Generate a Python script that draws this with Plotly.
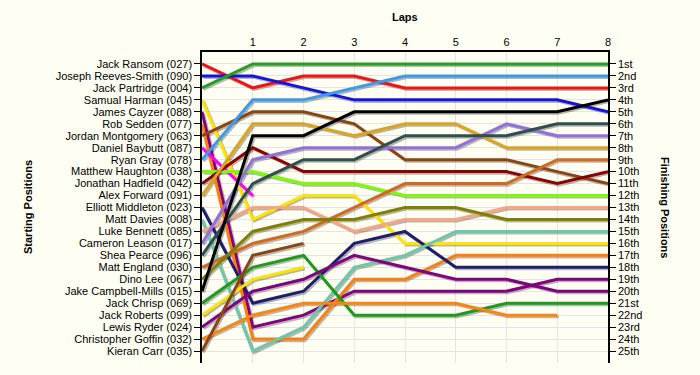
import plotly.graph_objects as go

laps = [0, 1, 2, 3, 4, 5, 6, 7, 8]

riders = [
    "Jack Ransom (027)", "Joseph Reeves-Smith (090)", "Jack Partridge (004)",
    "Samual Harman (045)", "James Cayzer (088)", "Rob Sedden (077)",
    "Jordan Montgomery (063)", "Daniel Baybutt (087)", "Ryan Gray (078)",
    "Matthew Haughton (038)", "Jonathan Hadfield (042)", "Alex Forward (091)",
    "Elliott Middleton (023)", "Matt Davies (008)", "Luke Bennett (085)",
    "Cameron Leason (017)", "Shea Pearce (096)", "Matt England (030)",
    "Dino Lee (067)", "Jake Campbell-Mills (015)", "Jack Chrisp (069)",
    "Jack Roberts (099)", "Lewis Ryder (024)", "Christopher Goffin (032)",
    "Kieran Carr (035)",
]

N = None
positions = [
    [1, 3, 2, 2, 3, 3, 3, 3, 3],
    [2, 2, 3, 4, 4, 4, 4, 4, 5],
    [3, 1, 1, 1, 1, 1, 1, 1, 1],
    [4, 14, 12, 12, 16, 16, 16, 16, 16],
    [5, 23, 22, 20, 20, 20, 20, 19, 19],
    [6, 24, 24, 19, 19, 17, 17, 17, 17],
    [7, 5, 5, 6, 9, 9, 9, 10, 11],
    [8, 12, N, N, N, N, N, N, N],
    [9, 4, 4, 3, 2, 2, 2, 2, 2],
    [10, 10, 11, 11, 12, 12, 12, 12, 12],
    [11, 8, 10, 10, 10, 10, 10, 11, 10],
    [12, 6, 6, 7, 6, 6, 8, 8, 8],
    [13, 21, 20, 16, 15, 18, 18, 18, 18],
    [14, 25, 23, 18, 17, 15, 15, 15, 15],
    [15, 13, 13, 15, 14, 14, 13, 13, 13],
    [16, 9, 8, 8, 8, 8, 6, 7, 7],
    [17, 11, 9, 9, 7, 7, 7, 6, 6],
    [18, 16, 15, 13, 11, 11, 11, 9, 9],
    [19, 15, 14, 14, 13, 13, 14, 14, 14],
    [20, 7, 7, 5, 5, 5, 5, 5, 4],
    [21, 18, 17, 22, 22, 22, 21, 21, 21],
    [22, 19, 18, N, N, N, N, N, N],
    [23, 20, 19, 17, 18, 19, 19, 20, 20],
    [24, 22, 21, 21, 21, 21, 22, 22, N],
    [25, 17, 16, N, N, N, N, N, N],
]

colors = [
    "#EE1515", "#1414DC", "#22A022", "#FFE400", "#800080", "#FF7F0E",
    "#8B4513", "#FF00FF", "#3A9AEE", "#7CFC00", "#8B0000", "#DAA520",
    "#1E1E6E", "#6CC8A8", "#F8A585", "#9370DB", "#2F4F4F", "#D2691E",
    "#808000", "#000000", "#1E9A1E", "#FFE400", "#800080", "#FF8410",
    "#8B4513",
]

finish_labels = ["1st", "2nd", "3rd"] + [f"{i}th" for i in range(4, 21)] + \
    ["21st", "22nd", "23rd", "24th", "25th"]
pos_ticks = list(range(1, 26))

fig = go.Figure()

# shadows
for pos in positions:
    fig.add_trace(go.Scatter(
        x=[l + 0.03 for l in laps],
        y=[p + 0.13 if p is not None else None for p in pos],
        mode="lines", line=dict(color="rgba(0,0,0,0.28)", width=3),
        hoverinfo="skip", showlegend=False))

for name, pos, c in zip(riders, positions, colors):
    fig.add_trace(go.Scatter(
        x=laps, y=pos, mode="lines", name=name,
        line=dict(color=c, width=3), showlegend=False))

# invisible trace for the right axis
fig.add_trace(go.Scatter(x=[0], y=[1], yaxis="y2", mode="markers",
                         marker=dict(opacity=0), hoverinfo="skip",
                         showlegend=False))

bg = "#FFFEF2"
font = dict(family="Liberation Sans, Arial, sans-serif", size=11, color="#000000")

L, R, T, B = 202, 92, 52, 12
pw = 700 - L - R
ph = 375 - T - B

fig.update_layout(
    width=700, height=375,
    paper_bgcolor=bg, plot_bgcolor=bg,
    margin=dict(l=L, r=R, t=T, b=B),
    font=font,
    xaxis=dict(
        side="top", range=[0, 8], tickvals=laps[1:], ticktext=[str(l) for l in laps[1:]],
        showline=True, linecolor="#000000", linewidth=1.5,
        showgrid=True, gridcolor="#E4E4E4", gridwidth=1,
        zeroline=False, ticks="", tickfont=font,
    ),
    yaxis=dict(
        range=[26, 0], tickvals=pos_ticks, ticktext=riders,
        showline=True, linecolor="#000000", linewidth=1.5,
        ticks="outside", ticklen=6, tickcolor="#000000", tickwidth=1,
        showgrid=True, gridcolor="#E4E4E4", gridwidth=1,
        zeroline=False, tickfont=font,
    ),
    yaxis2=dict(
        overlaying="y", side="right", range=[26, 0],
        tickvals=pos_ticks, ticktext=finish_labels,
        showline=True, linecolor="#000000", linewidth=1.5,
        ticks="outside", ticklen=6, tickcolor="#000000", tickwidth=1,
        showgrid=False, zeroline=False, tickfont=font,
    ),
    annotations=[
        dict(text="<b>Laps</b>", x=0.5, xref="paper", y=1 + (T - 17) / ph, yref="paper",
             yanchor="middle", xanchor="center", showarrow=False,
             font=dict(family="Liberation Sans, Arial", size=11)),
        dict(text="<b>Starting Positions</b>", textangle=-90, x=(28 - L) / pw, xref="paper",
             y=1 - (207 - T) / ph, yref="paper", showarrow=False,
             xanchor="center", yanchor="middle",
             font=dict(family="Liberation Sans, Arial", size=11)),
        dict(text="<b>Finishing Positions</b>", textangle=90, x=(665 - L) / pw, xref="paper",
             y=1 - (207 - T) / ph, yref="paper", showarrow=False,
             xanchor="center", yanchor="middle",
             font=dict(family="Liberation Sans, Arial", size=11)),
    ],
)

fig.write_html(
    "out.html",
    config={"displayModeBar": False},
    post_script="document.body.style.margin='0';document.body.style.background='#FFFEF2';",
)
